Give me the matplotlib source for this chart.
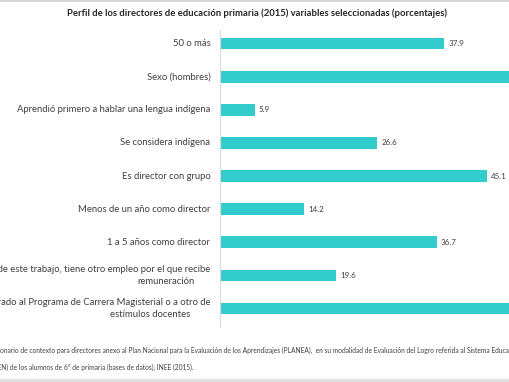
import matplotlib
matplotlib.use("Agg")
import matplotlib.pyplot as plt
from matplotlib.lines import Line2D

plt.rcParams["font.family"] = ["Lato", "DejaVu Sans"]

# ==========================
# Data
# ==========================
categories = [
    "50 o más",
    "Sexo (hombres)",
    "Aprendió primero a hablar una lengua indígena",
    "Se considera indígena",
    "Es director con grupo",
    "Menos de un año como director",
    "1 a 5 años como director",
    "Además de este trabajo, tiene otro empleo por el que recibe\nremuneración",
    "Está incorporado al Programa de Carrera Magisterial o a otro de\nestímulos docentes",
]
values = [37.9, 56.0, 5.9, 26.6, 45.1, 14.2, 36.7, 19.6, 62.0]
value_labels = ["37.9", "56.0", "5.9", "26.6", "45.1", "14.2", "36.7", "19.6", "62.0"]

title = "Perfil de los directores de educación primaria (2015) variables seleccionadas (porcentajes)"
source_lines = [
    "Fuente: Cuestionario de contexto para directores anexo al Plan Nacional para la Evaluación de los "
    "Aprendizajes (PLANEA),  en su modalidad de Evaluación del Logro referida al Sistema Educativo",
    "Nacional (ELSEN) de los alumnos de 6° de primaria (bases de datos), INEE (2015).",
]

bar_color = "#33CCCC"
text_color = "#404040"

# ==========================
# Figure
# ==========================
fig = plt.figure(figsize=(5.10, 3.82), dpi=100)
fig.patch.set_facecolor("white")

ax = fig.add_axes([0.4314, 0.144, 0.5686, 0.7775])
y = list(range(len(categories)))
ax.barh(y, values, height=0.35, color=bar_color)
ax.set_xlim(0, 49.07)
ax.set_ylim(8.56, -0.414)

for yi, v, lab in zip(y, values, value_labels):
    ax.annotate(lab, (v, yi), xytext=(3, 0), textcoords="offset points",
                ha="left", va="center", fontsize=5.8, color=text_color,
                annotation_clip=True)

# category labels: first lines right aligned, wrapped lines a bit inset
for yi, cat in zip(y, categories):
    parts = cat.split("\n")
    if len(parts) == 1:
        ax.annotate(parts[0], (0, yi), xytext=(-7, 0), textcoords="offset points",
                    ha="right", va="center", fontsize=6.8, color=text_color,
                    annotation_clip=False)
    else:
        ax.annotate(parts[0], (0, yi), xytext=(-7, 4.2), textcoords="offset points",
                    ha="right", va="center", fontsize=6.8, color=text_color,
                    annotation_clip=False)
        ax.annotate(parts[1], (0, yi), xytext=(-7 - 0.75 * (43 + 10 * (yi - 7) * 1.5), -4.6),
                    textcoords="offset points", ha="center", va="center",
                    fontsize=6.8, color=text_color, annotation_clip=False)

ax.set_yticks([])
ax.set_xticks([])
for side in ["top", "right", "bottom"]:
    ax.spines[side].set_visible(False)
ax.spines["left"].set_color("#d9d9d9")
ax.spines["left"].set_linewidth(0.8)

fig.text(0.503, 0.966, title, ha="center", va="center", fontsize=6.8,
         fontweight="bold", color="#262626")

for i, line in enumerate(source_lines):
    fig.text(-0.082, 0.084 - i * 0.045, line, ha="left", va="center",
             fontsize=4.8, color=text_color)

# light frame lines at top and bottom of the crop
fig.add_artist(Line2D([0, 1], [0.998, 0.998], color="#d0d0d0", lw=1.2))
fig.add_artist(Line2D([0, 1], [0.006, 0.006], color="#e0e0e0", lw=2.5))

fig.savefig("out.png", dpi=100)
